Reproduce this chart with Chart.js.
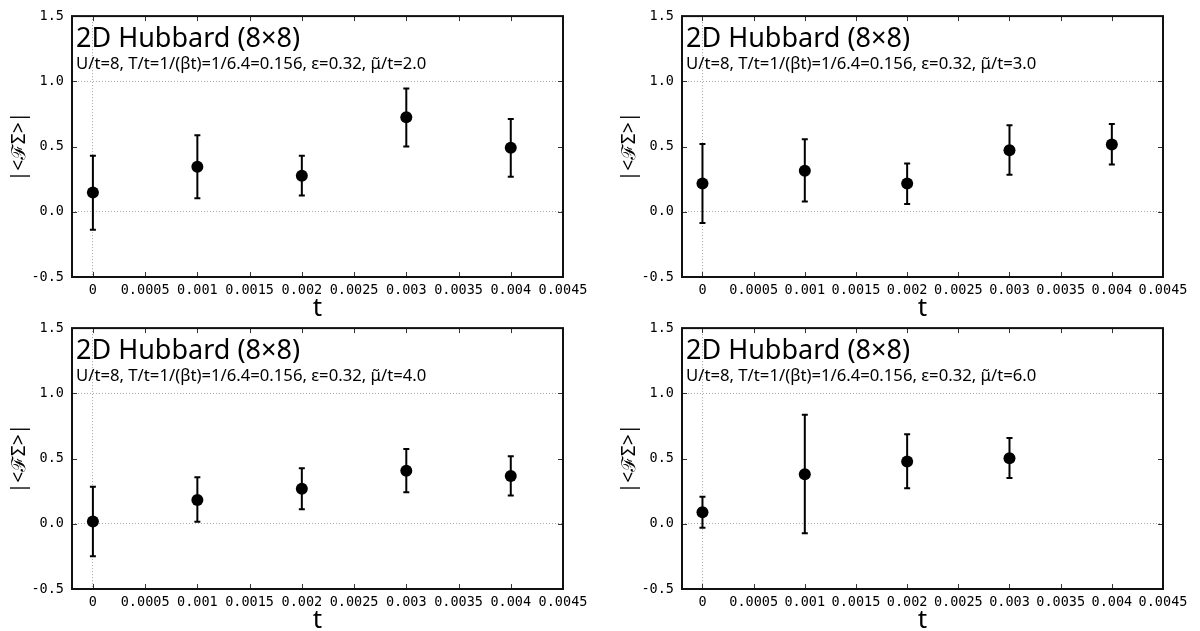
<!DOCTYPE html>
<html><head><meta charset="utf-8">
<script src="https://cdn.jsdelivr.net/npm/chart.js@4.4.0/dist/chart.umd.min.js"></script>
<style>
html,body{margin:0;padding:0;background:#fff;width:1200px;height:631px;overflow:hidden;}
.panel{position:absolute;}
</style></head><body>
<div class="panel" style="left:0;top:0;width:600px;height:320px"><canvas id="c1"></canvas></div>
<div class="panel" style="left:610px;top:0;width:590px;height:320px"><canvas id="c2"></canvas></div>
<div class="panel" style="left:0;top:312px;width:600px;height:320px"><canvas id="c3"></canvas></div>
<div class="panel" style="left:610px;top:312px;width:590px;height:320px"><canvas id="c4"></canvas></div>
<script>
// ---- data ----
const tValues = [0, 0.001, 0.002, 0.003, 0.004];
const mu2Mean = [0.147, 0.345, 0.277, 0.724, 0.490];
const mu2Low  = [-0.137, 0.104, 0.124, 0.500, 0.269];
const mu2High = [0.430, 0.587, 0.430, 0.945, 0.711];
const mu3Mean = [0.216, 0.315, 0.216, 0.472, 0.516];
const mu3Low  = [-0.086, 0.078, 0.059, 0.284, 0.363];
const mu3High = [0.520, 0.556, 0.371, 0.663, 0.673];
const mu4Mean = [0.018, 0.183, 0.269, 0.406, 0.366];
const mu4Low  = [-0.249, 0.015, 0.112, 0.241, 0.216];
const mu4High = [0.284, 0.356, 0.426, 0.574, 0.518];
const t6Values = [0, 0.001, 0.002, 0.003];
const mu6Mean = [0.088, 0.379, 0.477, 0.503];
const mu6Low  = [-0.030, -0.073, 0.273, 0.351];
const mu6High = [0.207, 0.836, 0.687, 0.657];
const xTicks = [0, 0.0005, 0.001, 0.0015, 0.002, 0.0025, 0.003, 0.0035, 0.004, 0.0045];
const yTicks = [-0.5, 0, 0.5, 1.0, 1.5];
const muLabels = ['2.0', '3.0', '4.0', '6.0'];
const titleText = '2D Hubbard (8×8)';
const subtitleBase = 'U/t=8, T/t=1/(βt)=1/6.4=0.156, ε=0.32, μ̃/t=';
const yTitle = '|<ℱΣ>|';
const xTitle = 't';

const SANS = '"Noto Sans", "DejaVu Sans", sans-serif';
const MONO = '"DejaVu Sans Mono", monospace';

const panelPlugin = {
  id: 'panel',
  beforeDatasetsDraw(chart) {
    const ctx = chart.ctx, xs = chart.scales.x, ys = chart.scales.y;
    const ds = chart.data.datasets[0];
    ctx.save();
    ctx.strokeStyle = '#000';
    ctx.lineWidth = 2;
    ds.data.forEach((p, i) => {
      const px = xs.getPixelForValue(p.x);
      const yl = ys.getPixelForValue(ds.errLow[i]);
      const yh = ys.getPixelForValue(ds.errHigh[i]);
      ctx.beginPath();
      ctx.moveTo(px, yl); ctx.lineTo(px, yh);
      ctx.moveTo(px - 3, yl); ctx.lineTo(px + 3, yl);
      ctx.moveTo(px - 3, yh); ctx.lineTo(px + 3, yh);
      ctx.stroke();
    });
    ctx.restore();
  },
  afterDraw(chart) {
    const ctx = chart.ctx, a = chart.chartArea, xs = chart.scales.x, ys = chart.scales.y;
    ctx.save();
    // inward ticks on all four sides
    ctx.strokeStyle = '#333';
    ctx.lineWidth = 1;
    ctx.beginPath();
    xs.ticks.forEach(t => {
      const px = Math.round(xs.getPixelForValue(t.value)) + 0.5;
      ctx.moveTo(px, a.bottom); ctx.lineTo(px, a.bottom - 5);
      ctx.moveTo(px, a.top); ctx.lineTo(px, a.top + 5);
    });
    ys.ticks.forEach(t => {
      const py = Math.round(ys.getPixelForValue(t.value)) + 0.5;
      ctx.moveTo(a.left, py); ctx.lineTo(a.left + 5, py);
      ctx.moveTo(a.right, py); ctx.lineTo(a.right - 5, py);
    });
    ctx.stroke();
    // frame
    ctx.strokeStyle = '#111';
    ctx.lineWidth = 2;
    ctx.strokeRect(a.left, a.top, a.right - a.left, a.bottom - a.top);
    // in-plot titles
    ctx.fillStyle = '#000';
    ctx.textBaseline = 'alphabetic';
    ctx.textAlign = 'left';
    ctx.font = '27px ' + SANS;
    ctx.fillText(titleText, a.left + 4, a.top + 31);
    ctx.font = '16.7px ' + SANS;
    ctx.fillText(chart.options.plugins.panel.subtitle, a.left + 4, a.top + 53);
    ctx.restore();
  }
};

function makeChart(id, ts, mean, low, high, mu) {
  const gridColor = c => (c.tick && (c.tick.value === 0 || c.tick.value === 1)) ? '#a8a8a8' : 'rgba(0,0,0,0)';
  const xGridColor = c => (c.tick && c.tick.value === 0) ? '#a8a8a8' : 'rgba(0,0,0,0)';
  return new Chart(document.getElementById(id), {
    type: 'scatter',
    data: {
      datasets: [{
        data: ts.map((t, i) => ({ x: t, y: mean[i] })),
        errLow: low,
        errHigh: high,
        pointRadius: 6,
        pointHoverRadius: 6,
        pointBackgroundColor: '#000',
        pointBorderWidth: 0,
        showLine: false
      }]
    },
    options: {
      responsive: true,
      maintainAspectRatio: false,
      animation: false,
      devicePixelRatio: 1,
      events: [],
      layout: { padding: { top: 14, left: 0, right: 37, bottom: 0 } },
      plugins: {
        legend: { display: false },
        tooltip: { enabled: false },
        panel: { subtitle: subtitleBase + mu }
      },
      scales: {
        x: {
          type: 'linear',
          min: -0.0002,
          max: 0.0045,
          afterBuildTicks: s => { s.ticks = xTicks.map(v => ({ value: v })); },
          afterFit: s => { s.height = 43; },
          grid: { color: xGridColor, lineWidth: 1, drawTicks: false, tickLength: 0 },
          border: { display: false, dash: [1, 2] },
          ticks: {
            autoSkip: false, maxRotation: 0, minRotation: 0, padding: 5, color: '#000',
            font: { family: MONO, size: 13.5 },
            callback: v => (v === 0 ? '0' : String(Number(v.toFixed(4))))
          },
          title: { display: true, text: xTitle, color: '#000',
                   font: { family: SANS, size: 26, lineHeight: 0.9 }, padding: { top: 0, bottom: 0 } }
        },
        y: {
          type: 'linear',
          min: -0.5,
          max: 1.5,
          afterBuildTicks: s => { s.ticks = yTicks.map(v => ({ value: v })); },
          afterFit: s => { s.width = 72; },
          grid: { color: gridColor, lineWidth: 1, drawTicks: false, tickLength: 0 },
          border: { display: false, dash: [1, 2] },
          ticks: {
            padding: 8, color: '#000',
            font: { family: MONO, size: 13.5 },
            callback: v => v.toFixed(1)
          },
          title: { display: true, text: yTitle, color: '#000',
                   font: { family: SANS, size: 19, lineHeight: 1 }, padding: { top: 10, bottom: 0 } }
        }
      }
    },
    plugins: [panelPlugin]
  });
}

makeChart('c1', tValues, mu2Mean, mu2Low, mu2High, muLabels[0]);
makeChart('c2', tValues, mu3Mean, mu3Low, mu3High, muLabels[1]);
makeChart('c3', tValues, mu4Mean, mu4Low, mu4High, muLabels[2]);
makeChart('c4', t6Values, mu6Mean, mu6Low, mu6High, muLabels[3]);
</script>
</body></html>
